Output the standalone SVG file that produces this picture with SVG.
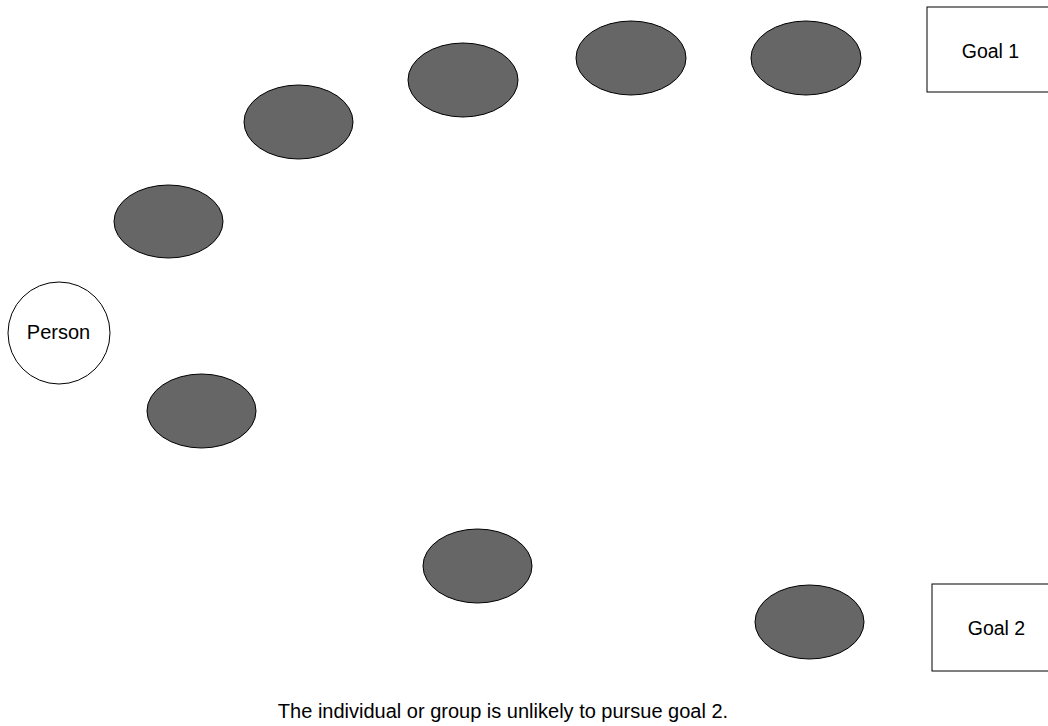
<svg xmlns="http://www.w3.org/2000/svg" width="1048" height="726" viewBox="0 0 1048 726">
<style>
.step{fill:#666666;stroke:#000;stroke-width:1}
.box{fill:#fff;stroke:#000;stroke-width:1}
text{font-family:"Liberation Sans",Arial,sans-serif;font-size:20px;fill:#000;text-anchor:middle}
.g{font-size:19.5px}
</style>
<rect width="1048" height="726" fill="#fff"/>
<g id="person"><circle class="box" cx="59" cy="333" r="51"/><text x="58.5" y="339">Person</text></g>
<g id="goal1"><rect class="box" x="927" y="7" width="126" height="85"/><text class="g" x="990.5" y="57.5">Goal 1</text></g>
<g id="goal2"><rect class="box" x="932" y="584" width="130" height="87"/><text class="g" x="996.5" y="634.5">Goal 2</text></g>
<g id="step1"><ellipse class="step" cx="168.5" cy="221.5" rx="54.5" ry="36.5"/></g>
<g id="step2"><ellipse class="step" cx="298.5" cy="122" rx="54.5" ry="37"/></g>
<g id="step3"><ellipse class="step" cx="463" cy="80" rx="55" ry="37"/></g>
<g id="step4"><ellipse class="step" cx="631" cy="58" rx="55" ry="37"/></g>
<g id="step5"><ellipse class="step" cx="806" cy="58" rx="55" ry="37"/></g>
<g id="step6"><ellipse class="step" cx="201.5" cy="411" rx="54.5" ry="37"/></g>
<g id="step7"><ellipse class="step" cx="477.5" cy="566" rx="54.5" ry="37"/></g>
<g id="step8"><ellipse class="step" cx="809.5" cy="622" rx="54.5" ry="37"/></g>
<g id="connectors"/>
<text x="503" y="717.5">The individual or group is unlikely to pursue goal 2.</text>
</svg>
